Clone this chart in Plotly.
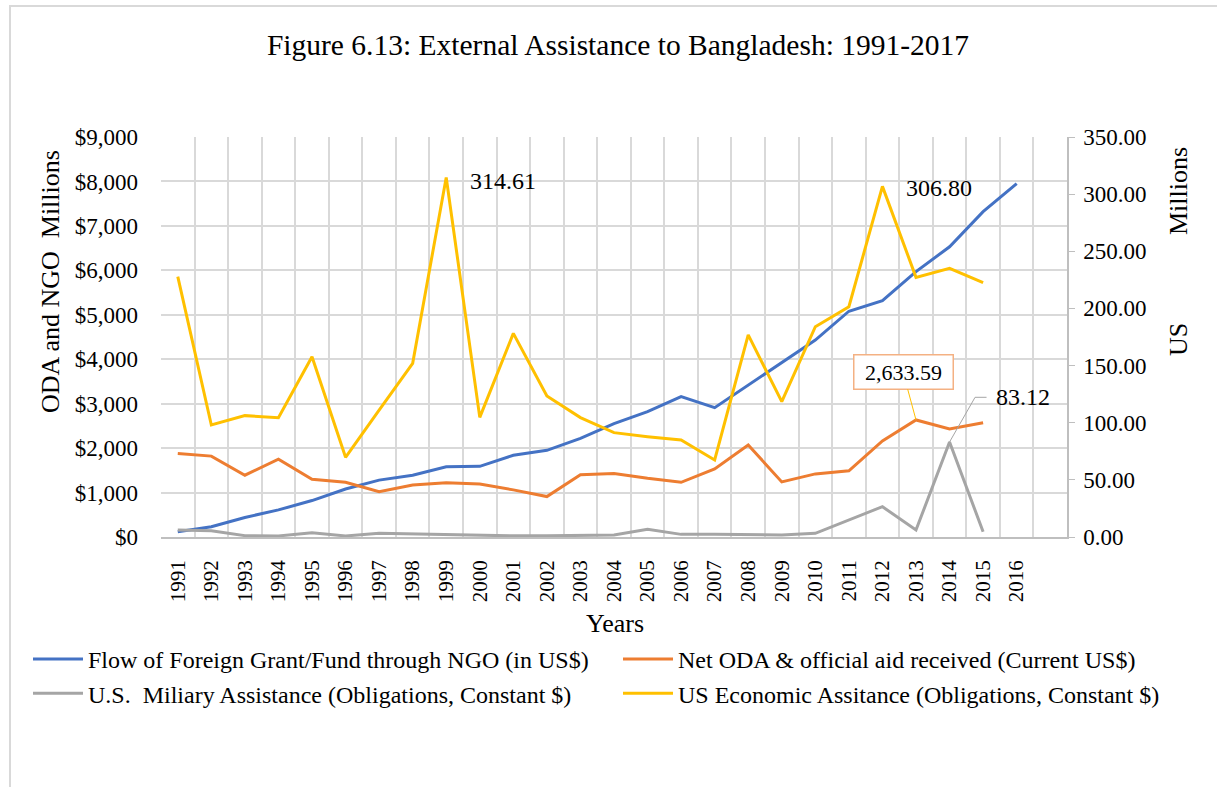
import plotly.graph_objects as go

years = list(range(1991, 2017))
year_labels = [str(y) for y in years]

ngo_flow = [120, 230, 440, 610, 820, 1080, 1280, 1390, 1580, 1590, 1840, 1950, 2220,
            2550, 2820, 3160, 2910, 3420, 3910, 4430, 5080, 5320, 5970, 6530, 7320, 7950]
net_oda = [1880, 1820, 1390, 1750, 1300, 1230, 1020, 1170, 1220, 1190, 1060, 910, 1400,
           1430, 1320, 1230, 1530, 2070, 1240, 1420, 1490, 2160, 2633.59, 2430, 2570]
us_military = [6.1, 5.5, 1.2, 0.9, 3.8, 0.9, 3.2, 2.6, 2.0, 1.1, 1.0, 1.0, 1.3,
               1.8, 6.7, 2.3, 2.3, 1.8, 1.8, 3.2, 14.9, 26.5, 6.1, 83.12, 4.6]
us_economic = [227.8, 98.0, 106.2, 104.4, 157.8, 69.7, 111.0, 152.0, 314.61, 104.7, 178.2,
               123.4, 104.5, 91.3, 87.8, 84.9, 67.4, 176.8, 118.4, 184.0, 201.5, 306.80,
               227.2, 235.1, 222.5]

names = ["Flow of Foreign Grant/Fund through NGO (in US$)",
         "Net ODA &amp; official aid received (Current US$)",
         "U.S.  Miliary Assistance (Obligations, Constant $)",
         "US Economic Assitance (Obligations, Constant $)"]
colors = ["#4472C4", "#ED7D31", "#A5A5A5", "#FFC000"]

FONT = "Liberation Serif, Times New Roman, serif"
W, H = 1217, 787
L, R, T, B = 161, 150, 137, 250
PW, PH = W - L - R, H - T - B


def px(x):
    return (x - L) / PW


def py(y):
    return (H - B - y) / PH


fig = go.Figure()
fig.add_trace(go.Scatter(x=years, y=ngo_flow, name=names[0], mode="lines",
                         line=dict(color=colors[0], width=3), legend="legend"))
fig.add_trace(go.Scatter(x=years[:len(net_oda)], y=net_oda, name=names[1], mode="lines",
                         line=dict(color=colors[1], width=3), legend="legend2"))
fig.add_trace(go.Scatter(x=years[:len(us_military)], y=us_military, name=names[2], mode="lines",
                         line=dict(color=colors[2], width=3), yaxis="y2", legend="legend"))
fig.add_trace(go.Scatter(x=years[:len(us_economic)], y=us_economic, name=names[3], mode="lines",
                         line=dict(color=colors[3], width=3), yaxis="y2", legend="legend2"))

grid = "#D9D9D9"
fig.update_layout(
    width=W, height=H,
    margin=dict(l=L, r=R, t=T, b=B, autoexpand=False),
    paper_bgcolor="white", plot_bgcolor="white",
    font=dict(family=FONT, color="black", size=22),
    title=dict(text="Figure 6.13: External Assistance to Bangladesh: 1991-2017",
               font=dict(family=FONT, size=29.5, color="black"),
               xref="container", x=618 / W, xanchor="center",
               yref="container", y=1 - 45 / H, yanchor="middle"),
    xaxis=dict(range=[1990.5, 2017.5], tickmode="array", tickvals=years, ticktext=year_labels,
               tickangle=-90, showgrid=False, zeroline=False, automargin=False,
               showline=True, linecolor="#BFBFBF", linewidth=1.5,
               ticks="", ticklabelstandoff=13,
               tickfont=dict(family=FONT, size=21),
               minor=dict(tickmode="array",
                          tickvals=[y - 0.5 for y in years] + [2016.5, 2017.5],
                          showgrid=True, gridcolor=grid, gridwidth=1.5, ticks="")),
    yaxis=dict(range=[0, 9000], dtick=1000, tickprefix="$", tickformat=",d",
               showgrid=True, gridcolor=grid, gridwidth=1.5, zeroline=False, automargin=False,
               showline=False, ticks="", ticklabelstandoff=22,
               tickfont=dict(family=FONT, size=23)),
    yaxis2=dict(range=[0, 350], dtick=50, tickformat=".2f", overlaying="y", side="right",
                showgrid=False, zeroline=False, showline=True, linecolor="#BFBFBF",
                linewidth=1.5, ticks="outside", ticklen=6, tickcolor="#BFBFBF", automargin=False,
                ticklabelstandoff=4, tickfont=dict(family=FONT, size=23)),
    legend=dict(orientation="v", xref="container", yref="container",
                x=28 / W, y=1 - 637 / H, xanchor="left", yanchor="top",
                font=dict(family=FONT, size=24), itemwidth=50, bgcolor="rgba(0,0,0,0)",
                tracegroupgap=0),
    legend2=dict(orientation="v", xref="container", yref="container",
                 x=618 / W, y=1 - 637 / H, xanchor="left", yanchor="top",
                 font=dict(family=FONT, size=24), itemwidth=50, bgcolor="rgba(0,0,0,0)",
                 tracegroupgap=0),
    showlegend=True,
)

annotations = [
    dict(text="ODA and NGO  Millions", xref="paper", yref="paper", x=px(50), y=py(282),
         textangle=-90, showarrow=False, font=dict(size=26), xanchor="center", yanchor="middle"),
    dict(text="Millions", xref="paper", yref="paper", x=px(1178), y=py(191),
         textangle=-90, showarrow=False, font=dict(size=26), xanchor="center", yanchor="middle"),
    dict(text="US", xref="paper", yref="paper", x=px(1178), y=py(340),
         textangle=-90, showarrow=False, font=dict(size=26), xanchor="center", yanchor="middle"),
    dict(text="Years", xref="paper", yref="paper", x=px(615), y=py(623),
         showarrow=False, font=dict(size=26), xanchor="center", yanchor="middle"),
    dict(text="314.61", x=years[8], y=us_economic[8], xref="x", yref="y2", showarrow=False,
         xanchor="left", yanchor="middle", xshift=22, yshift=-4, font=dict(size=24)),
    dict(text="306.80", x=years[21], y=us_economic[21], xref="x", yref="y2", showarrow=False,
         xanchor="left", yanchor="middle", xshift=22, yshift=-2, font=dict(size=24)),
    dict(text="2,633.59", x=years[22], y=net_oda[22], xref="x", yref="y", showarrow=True,
         arrowhead=0, arrowcolor="#FFC000", arrowwidth=1, ax=-13, ay=-48,
         bordercolor="#F4B183", borderwidth=1.5, borderpad=4, bgcolor="white",
         width=90, font=dict(size=22)),
    dict(text="83.12", x=years[23], y=us_military[23], xref="x", yref="y2", showarrow=False,
         xanchor="left", yanchor="middle", xshift=44, yshift=44.7, font=dict(size=24)),
]
fig.update_layout(annotations=annotations)

shapes = [
    dict(type="path", xref="x", yref="y2", xsizemode="pixel", ysizemode="pixel",
         xanchor=years[23], yanchor=us_military[23],
         path="M 0,0 L 25.5,44.7 L 37,44.7", line=dict(color="#A5A5A5", width=1)),
    dict(type="rect", xref="paper", yref="paper", x0=px(10), x1=px(1240),
         y0=py(820), y1=py(6), line=dict(color="#D9D9D9", width=2), layer="below"),
]
fig.update_layout(shapes=shapes)

fig.write_html("out.html")
